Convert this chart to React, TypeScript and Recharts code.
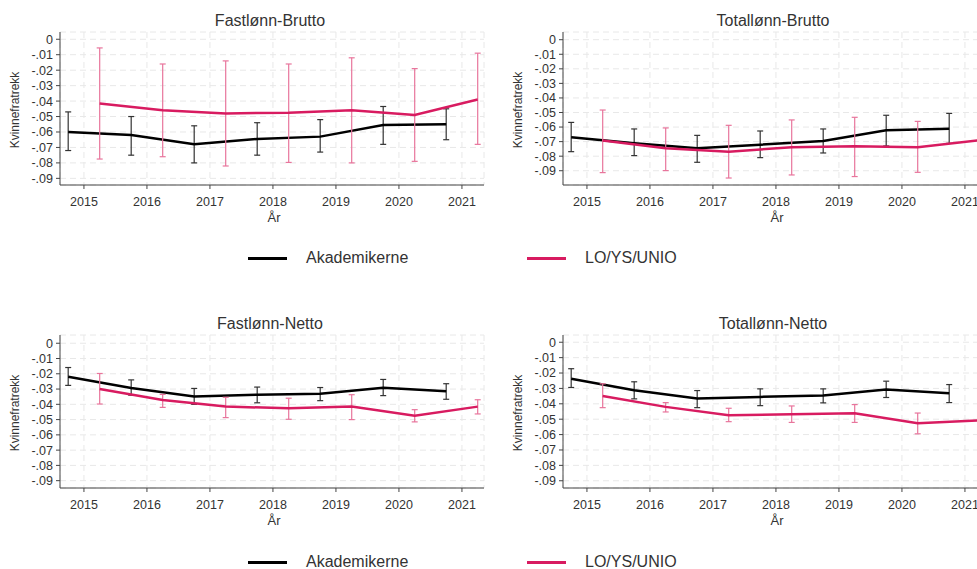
import { LineChart, Line, XAxis, YAxis, CartesianGrid, ErrorBar } from "recharts";

const years = [2015, 2016, 2017, 2018, 2019, 2020, 2021];
const yTicks = [0, -0.01, -0.02, -0.03, -0.04, -0.05, -0.06, -0.07, -0.08, -0.09];
const yTickLabels = ["0", "-.01", "-.02", "-.03", "-.04", "-.05", "-.06", "-.07", "-.08", "-.09"];

// Fastlønn-Brutto
const fbAkaMean = [-0.06, -0.062, -0.068, -0.0645, -0.063, -0.0555, -0.055];
const fbAkaLow = [-0.072, -0.075, -0.08, -0.075, -0.073, -0.068, -0.065];
const fbAkaHigh = [-0.047, -0.05, -0.056, -0.054, -0.052, -0.0435, -0.045];
const fbLoMean = [-0.0415, -0.046, -0.048, -0.0475, -0.046, -0.049, -0.039];
const fbLoLow = [-0.0775, -0.076, -0.082, -0.0797, -0.08, -0.079, -0.068];
const fbLoHigh = [-0.0056, -0.016, -0.014, -0.016, -0.012, -0.019, -0.009];

// Totallønn-Brutto
const tbAkaMean = [-0.067, -0.0712, -0.0746, -0.0721, -0.0696, -0.0622, -0.0611];
const tbAkaLow = [-0.0769, -0.0796, -0.0842, -0.081, -0.0778, -0.073, -0.0712];
const tbAkaHigh = [-0.0568, -0.0613, -0.0657, -0.0627, -0.0613, -0.0519, -0.0506];
const tbLoMean = [-0.0693, -0.0746, -0.0769, -0.0739, -0.0732, -0.0739, -0.069];
const tbLoLow = [-0.0913, -0.0899, -0.095, -0.0929, -0.094, -0.0911, -0.088];
const tbLoHigh = [-0.0483, -0.0606, -0.0588, -0.0551, -0.0533, -0.0561, -0.05];

// Fastlønn-Netto
const fnAkaMean = [-0.022, -0.0293, -0.0348, -0.0337, -0.033, -0.0291, -0.0315];
const fnAkaLow = [-0.0276, -0.034, -0.04, -0.039, -0.0376, -0.0343, -0.0367];
const fnAkaHigh = [-0.0159, -0.024, -0.0296, -0.0287, -0.029, -0.0237, -0.0265];
const fnLoMean = [-0.03, -0.0372, -0.0415, -0.0426, -0.0415, -0.0474, -0.0415];
const fnLoLow = [-0.0398, -0.042, -0.0487, -0.0498, -0.05, -0.0515, -0.0463];
const fnLoHigh = [-0.0198, -0.0335, -0.0354, -0.036, -0.0337, -0.0435, -0.037];

// Totallønn-Netto
const tnAkaMean = [-0.0237, -0.0312, -0.0366, -0.0355, -0.0346, -0.0307, -0.0331];
const tnAkaLow = [-0.0294, -0.0368, -0.0425, -0.0412, -0.0394, -0.0359, -0.0392];
const tnAkaHigh = [-0.0172, -0.0257, -0.0314, -0.0303, -0.0303, -0.0253, -0.0275];
const tnLoMean = [-0.0349, -0.042, -0.0475, -0.0468, -0.0462, -0.0527, -0.0507];
const tnLoLow = [-0.0425, -0.0453, -0.0516, -0.0521, -0.0521, -0.0595, -0.0565];
const tnLoHigh = [-0.027, -0.0392, -0.0429, -0.0414, -0.0405, -0.046, -0.045];

const AKA_COLOR = "#000000";
const AKA_ERR = "#333333";
const LO_COLOR = "#D81B60";
const LO_ERR = "#E8759C";
const TEXT = "#333333";
const FONT = '"Liberation Sans", Arial, sans-serif';

type Point = { x: number; y: number; err: number[] };

function buildSeries(mean: number[], low: number[], high: number[], shift: number): Point[] {
  return years.map((yr, i) => ({
    x: yr + shift,
    y: mean[i],
    err: [mean[i] - low[i], high[i] - mean[i]],
  }));
}

function fmtY(v: number) {
  const i = yTicks.findIndex((t) => Math.abs(t - v) < 1e-9);
  return i >= 0 ? yTickLabels[i] : String(v);
}

interface PanelProps {
  title: string;
  left: number;
  top: number;
  yDomain: [number, number];
  aka: Point[];
  lo: Point[];
}

function Panel({ title, left, top, yDomain, aka, lo }: PanelProps) {
  return (
    <div style={{ position: "absolute", left, top, width: 490, height: 240 }}>
      <LineChart width={490} height={240} margin={{ top: 32, right: 6, bottom: 25, left: 0 }}>
        <CartesianGrid stroke="#e8e8e8" strokeDasharray="6 4" />
        <XAxis
          type="number"
          dataKey="x"
          domain={[2014.62, 2021.35]}
          ticks={years}
          interval={0}
          allowDataOverflow
          height={30}
          tickSize={4}
          tickMargin={8}
          stroke="#444"
          tick={{ fill: TEXT, fontSize: 12.5, fontFamily: FONT }}
        />
        <YAxis
          type="number"
          domain={yDomain}
          ticks={yTicks}
          interval={0}
          allowDataOverflow
          tickFormatter={fmtY}
          width={60}
          tickSize={4}
          tickMargin={3}
          stroke="#444"
          tick={{ fill: TEXT, fontSize: 12.5, fontFamily: FONT }}
        />
        <Line
          data={aka}
          dataKey="y"
          stroke={AKA_COLOR}
          strokeWidth={2.5}
          dot={false}
          isAnimationActive={false}
        >
          <ErrorBar dataKey="err" direction="y" width={3} stroke={AKA_ERR} strokeWidth={1.2} />
        </Line>
        <Line
          data={lo}
          dataKey="y"
          stroke={LO_COLOR}
          strokeWidth={2.5}
          dot={false}
          isAnimationActive={false}
        >
          <ErrorBar dataKey="err" direction="y" width={3} stroke={LO_ERR} strokeWidth={1.2} />
        </Line>
      </LineChart>
      <div
        style={{
          position: "absolute",
          left: 270,
          top: 21,
          transform: "translate(-50%, -50%)",
          fontSize: 16,
          color: TEXT,
          whiteSpace: "nowrap",
        }}
      >
        {title}
      </div>
      <div
        style={{
          position: "absolute",
          left: 15,
          top: 110,
          transform: "translate(-50%, -50%) rotate(-90deg)",
          fontSize: 12,
          color: TEXT,
          whiteSpace: "nowrap",
        }}
      >
        Kvinnefratrekk
      </div>
      <div
        style={{
          position: "absolute",
          left: 274,
          top: 217,
          transform: "translate(-50%, -50%)",
          fontSize: 13,
          color: TEXT,
          whiteSpace: "nowrap",
        }}
      >
        År
      </div>
    </div>
  );
}

function LegendRow({ top }: { top: number }) {
  const item = (left: number, color: string, label: string) => (
    <div style={{ position: "absolute", left, top: top - 10, height: 20, display: "flex", alignItems: "center" }}>
      <div style={{ width: 39, height: 3, background: color }} />
      <span style={{ marginLeft: 19, fontSize: 16, color: TEXT, whiteSpace: "nowrap" }}>{label}</span>
    </div>
  );
  return (
    <>
      {item(248, AKA_COLOR, "Akademikerne")}
      {item(527, LO_COLOR, "LO/YS/UNIO")}
    </>
  );
}

export default function App() {
  return (
    <div
      style={{
        position: "absolute",
        left: 0,
        top: 0,
        width: 977,
        height: 569,
        overflow: "hidden",
        background: "#fff",
        fontFamily: FONT,
      }}
    >
      <Panel
        title="Fastlønn-Brutto"
        left={0}
        top={0}
        yDomain={[-0.0943, 0.0047]}
        aka={buildSeries(fbAkaMean, fbAkaLow, fbAkaHigh, -0.25)}
        lo={buildSeries(fbLoMean, fbLoLow, fbLoHigh, 0.25)}
      />
      <Panel
        title="Totallønn-Brutto"
        left={503}
        top={0}
        yDomain={[-0.0998, 0.0053]}
        aka={buildSeries(tbAkaMean, tbAkaLow, tbAkaHigh, -0.25)}
        lo={buildSeries(tbLoMean, tbLoLow, tbLoHigh, 0.25)}
      />
      <LegendRow top={258} />
      <Panel
        title="Fastlønn-Netto"
        left={0}
        top={303}
        yDomain={[-0.0948, 0.0054]}
        aka={buildSeries(fnAkaMean, fnAkaLow, fnAkaHigh, -0.25)}
        lo={buildSeries(fnLoMean, fnLoLow, fnLoHigh, 0.25)}
      />
      <Panel
        title="Totallønn-Netto"
        left={503}
        top={303}
        yDomain={[-0.0947, 0.0047]}
        aka={buildSeries(tnAkaMean, tnAkaLow, tnAkaHigh, -0.25)}
        lo={buildSeries(tnLoMean, tnLoLow, tnLoHigh, 0.25)}
      />
      <LegendRow top={562} />
    </div>
  );
}
